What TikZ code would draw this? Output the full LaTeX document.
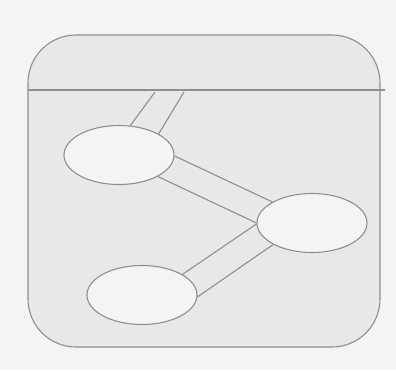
\documentclass[tikz,border=0pt]{standalone}
\usetikzlibrary{shapes.geometric}
\definecolor{bgc}{HTML}{F4F4F4}
\definecolor{panel}{HTML}{E8E8E8}
\definecolor{strokec}{HTML}{8E8E8E}
\definecolor{ellfill}{HTML}{F4F4F4}
\tikzset{
  blob/.style={ellipse, draw=strokec, fill=ellfill, line width=1.1pt, minimum width=110pt, minimum height=59pt, inner sep=0pt},
  tube/.style={draw=strokec, line width=1.1pt},
}
\begin{document}
\begin{tikzpicture}[x=1pt,y=-1pt]
\useasboundingbox (0,0) rectangle (396,370);
\fill[bgc] (0,0) rectangle (396,370);
\draw[draw=strokec, fill=panel, line width=1.1pt, rounded corners=48pt] (28,35) rectangle (380,347);
\draw[tube] (28,90) -- (385,90);
\coordinate (t1) at (155,92);
\coordinate (t2) at (184,92);
\node[blob] (e1) at (119,155) {};
\node[blob] (e2) at (312,223) {};
\node[blob] (e3) at (142,295) {};
\draw[tube] (t1) -- (e1.69);
\draw[tube] (t2) -- (e1.28);
\draw[tube] (e1.-1) -- (e2.152);
\draw[tube] (e1.-29) -- (e2.180);
\draw[tube] (e2.181) -- (e3.27);
\draw[tube] (e2.209) -- (e3.-2);
\end{tikzpicture}
\end{document}
